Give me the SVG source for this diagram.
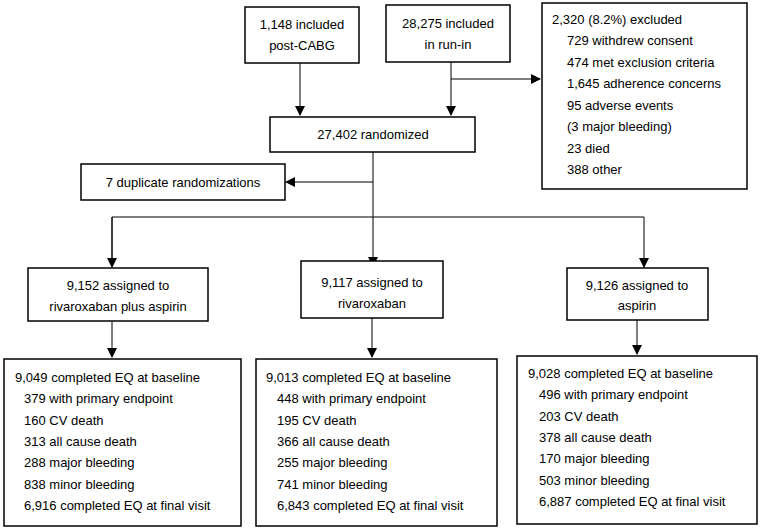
<svg xmlns="http://www.w3.org/2000/svg" width="760" height="529" viewBox="0 0 760 529">
<defs>
<style>
rect{fill:#fff;stroke:#000;stroke-width:1.5}
text{font-family:"Liberation Sans",Arial,sans-serif;font-size:13px;fill:#000;dominant-baseline:central}
.c{text-anchor:middle}
#conn path{fill:none;stroke:#000;stroke-width:1}
</style>
<marker id="a" markerWidth="10" markerHeight="10" refX="9" refY="5" orient="auto" markerUnits="userSpaceOnUse"><path d="M0,0L10,5L0,10Z" fill="#000"/></marker>
</defs>
<g id="conn">
<path d="M300,63V115" marker-end="url(#a)"/>
<path d="M451,62V115" marker-end="url(#a)"/>
<path d="M451,79H540" marker-end="url(#a)"/>
<path d="M373,152V266" marker-end="url(#a)"/>
<path d="M373,182H286" marker-end="url(#a)"/>
<path d="M112,267V217H644V267" marker-end="url(#a)"/>
<path d="M112,217V267" marker-end="url(#a)"/>
<path d="M112,321V357" marker-end="url(#a)"/>
<path d="M372,318V357" marker-end="url(#a)"/>
<path d="M637,320V354" marker-end="url(#a)"/>
</g>
<g id="postcabg"><rect x="245" y="7" width="114" height="56"/><text class="c" x="302" y="24">1,148 included</text><text class="c" x="302" y="45">post-CABG</text></g>
<g id="runin"><rect x="386" y="5" width="124" height="57"/><text class="c" x="448" y="23">28,275 included</text><text class="c" x="448" y="44">in run-in</text></g>
<g id="excluded"><rect x="542" y="3" width="205" height="186"/>
<text x="552" y="19">2,320 (8.2%) excluded</text>
<text x="567" y="40">729 withdrew consent</text>
<text x="567" y="62">474 met exclusion criteria</text>
<text x="567" y="83">1,645 adherence concerns</text>
<text x="567" y="105">95 adverse events</text>
<text x="567" y="126">(3 major bleeding)</text>
<text x="567" y="148">23 died</text>
<text x="567" y="169">388 other</text></g>
<g id="randomized"><rect x="270" y="117" width="205" height="35"/><text class="c" x="373" y="134">27,402 randomized</text></g>
<g id="duplicate"><rect x="81" y="164" width="204" height="36"/><text class="c" x="183" y="182">7 duplicate randomizations</text></g>
<g id="assignL"><rect x="28" y="268" width="180" height="53"/><text class="c" x="118" y="285">9,152 assigned to</text><text class="c" x="118" y="306">rivaroxaban plus aspirin</text></g>
<g id="assignM"><rect x="301" y="261" width="142" height="57"/><text class="c" x="372" y="282">9,117 assigned to</text><text class="c" x="372" y="303">rivaroxaban</text></g>
<g id="assignR"><rect x="567" y="268" width="141" height="52"/><text class="c" x="637" y="285">9,126 assigned to</text><text class="c" x="637" y="305">aspirin</text></g>
<g id="outL"><rect x="4" y="359" width="237" height="167"/>
<text x="15" y="377">9,049 completed EQ at baseline</text>
<text x="24" y="398">379 with primary endpoint</text>
<text x="24" y="420">160 CV death</text>
<text x="24" y="441">313 all cause death</text>
<text x="24" y="462">288 major bleeding</text>
<text x="24" y="484">838 minor bleeding</text>
<text x="24" y="505">6,916 completed EQ at final visit</text></g>
<g id="outM"><rect x="256" y="359" width="241" height="167"/>
<text x="266" y="377">9,013 completed EQ at baseline</text>
<text x="277" y="398">448 with primary endpoint</text>
<text x="277" y="420">195 CV death</text>
<text x="277" y="441">366 all cause death</text>
<text x="277" y="462">255 major bleeding</text>
<text x="277" y="484">741 minor bleeding</text>
<text x="277" y="505">6,843 completed EQ at final visit</text></g>
<g id="outR"><rect x="517" y="356" width="240" height="168"/>
<text x="528" y="373">9,028 completed EQ at baseline</text>
<text x="539" y="394">496 with primary endpoint</text>
<text x="539" y="416">203 CV death</text>
<text x="539" y="437">378 all cause death</text>
<text x="539" y="458">170 major bleeding</text>
<text x="539" y="480">503 minor bleeding</text>
<text x="539" y="501">6,887 completed EQ at final visit</text></g>
</svg>
